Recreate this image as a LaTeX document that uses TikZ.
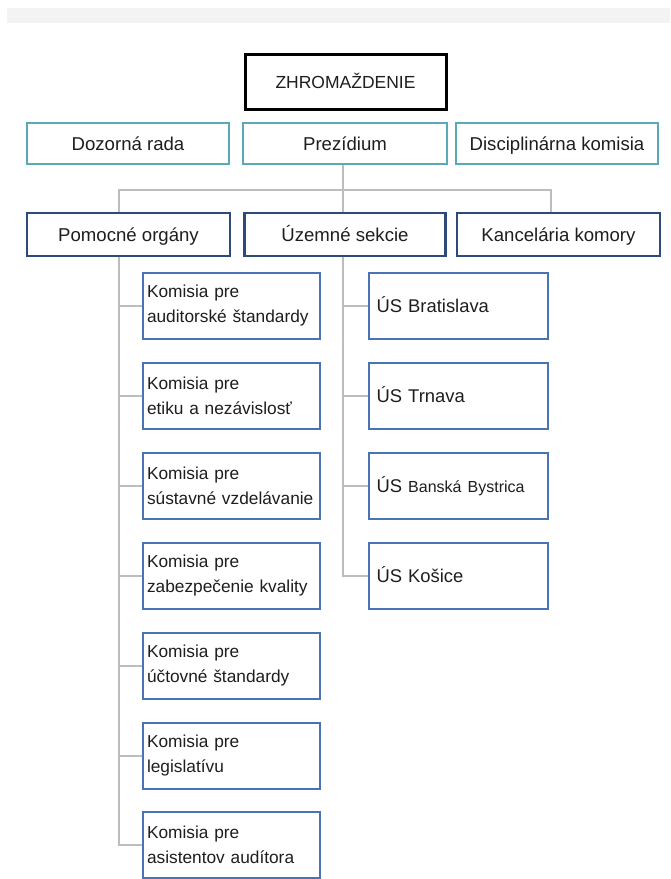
\documentclass[tikz,border=0pt]{standalone}
\usepackage{fontspec}
\setmainfont{Liberation Sans}
\usetikzlibrary{backgrounds}
\definecolor{tealb}{HTML}{5BA9B8}
\definecolor{navyb}{HTML}{2E4A78}
\definecolor{blueb}{HTML}{4A73B3}
\definecolor{linegray}{HTML}{BDBDBD}
\definecolor{txt}{HTML}{1E1E1E}
\definecolor{band}{HTML}{F3F3F3}
\tikzset{
  box/.style={draw, fill=white, line width=2.6pt, inner sep=0pt, text=txt, anchor=center},
  oneline/.style={text height=16pt, text depth=3pt},
  topbox/.style={box, oneline, draw=black, line width=3pt, minimum width=201pt, minimum height=55pt, font=\fontsize{17.5pt}{20pt}\selectfont},
  tealbox/.style={box, oneline, draw=tealb, minimum height=41pt, font=\fontsize{18.6pt}{22pt}\selectfont},
  navybox/.style={box, oneline, draw=navyb, minimum height=43pt, font=\fontsize{18.6pt}{22pt}\selectfont},
  kombox/.style={box, draw=blueb, minimum width=177pt, minimum height=66pt, text width=169pt, align=left, font=\fontsize{17.3pt}{25pt}\selectfont},
  usbox/.style={box, oneline, draw=blueb, minimum width=179pt, minimum height=66pt, text width=164pt, align=left, font=\fontsize{18.4pt}{22pt}\selectfont},
  conn/.style={draw=linegray, line width=2.8pt}
}
\begin{document}
\begin{tikzpicture}[x=1pt,y=-1pt]
\useasboundingbox (0,0) rectangle (670,879);
\fill[band] (7,8) rectangle (670,23);

\node[topbox] (zh) at (345.5,81.5) {ZHROMAŽDENIE};

\node[tealbox, minimum width=202pt] (doz) at (128,143.5) {Dozorná rada};
\node[tealbox, minimum width=204pt] (prez) at (345,143.5) {Prezídium};
\node[tealbox, minimum width=202pt] (disc) at (557,143.5) {Disciplinárna komisia};

\node[navybox, minimum width=203pt] (pom) at (128.5,234.5) {Pomocné orgány};
\node[navybox, minimum width=201pt] (uz) at (345,234.5) {Územné sekcie};
\node[navybox, minimum width=203pt] (kan) at (558.5,234.5) {Kancelária komory};

\node[kombox] (k1) at (231.5,306) {Komisia pre\\auditorské štandardy};
\node[kombox] (k2) at (231.5,396) {Komisia pre\\etiku a nezávislosť};
\node[kombox] (k3) at (231.5,486) {Komisia pre\\sústavné vzdelávanie};
\node[kombox] (k4) at (231.5,576) {Komisia pre\\zabezpečenie kvality};
\node[kombox] (k5) at (231.5,666) {Komisia pre\\účtovné štandardy};
\node[kombox] (k6) at (231.5,756) {Komisia pre\\legislatívu};
\node[kombox] (k7) at (231.5,845) {Komisia pre\\asistentov audítora};

\node[usbox] (u1) at (458.5,306) {ÚS Bratislava};
\node[usbox] (u2) at (458.5,396) {ÚS Trnava};
\node[usbox] (u3) at (458.5,486) {ÚS {\fontsize{16pt}{20pt}\selectfont Banská Bystrica}};
\node[usbox] (u4) at (458.5,576) {ÚS Košice};

\coordinate (hl) at (119,190);
\coordinate (hr) at (551,190);
\coordinate (hm) at (343,190);
\coordinate (sl) at (119,0);
\coordinate (sr) at (343,0);

\begin{scope}[on background layer]
\draw[conn] (hm |- prez.south) -- (hm);
\draw[conn] (hl |- pom.north) -- (hl) -- (hr) -- (hr |- kan.north);
\draw[conn] (hm) -- (hm |- uz.north);
\draw[conn] (sl |- pom.south) |- (k7.west);
\foreach \k in {k1,k2,k3,k4,k5,k6}{\draw[conn] (sl |- \k.west) -- (\k.west);}
\draw[conn] (sr |- uz.south) |- (u4.west);
\foreach \u in {u1,u2,u3}{\draw[conn] (sr |- \u.west) -- (\u.west);}
\end{scope}
\end{tikzpicture}
\end{document}
